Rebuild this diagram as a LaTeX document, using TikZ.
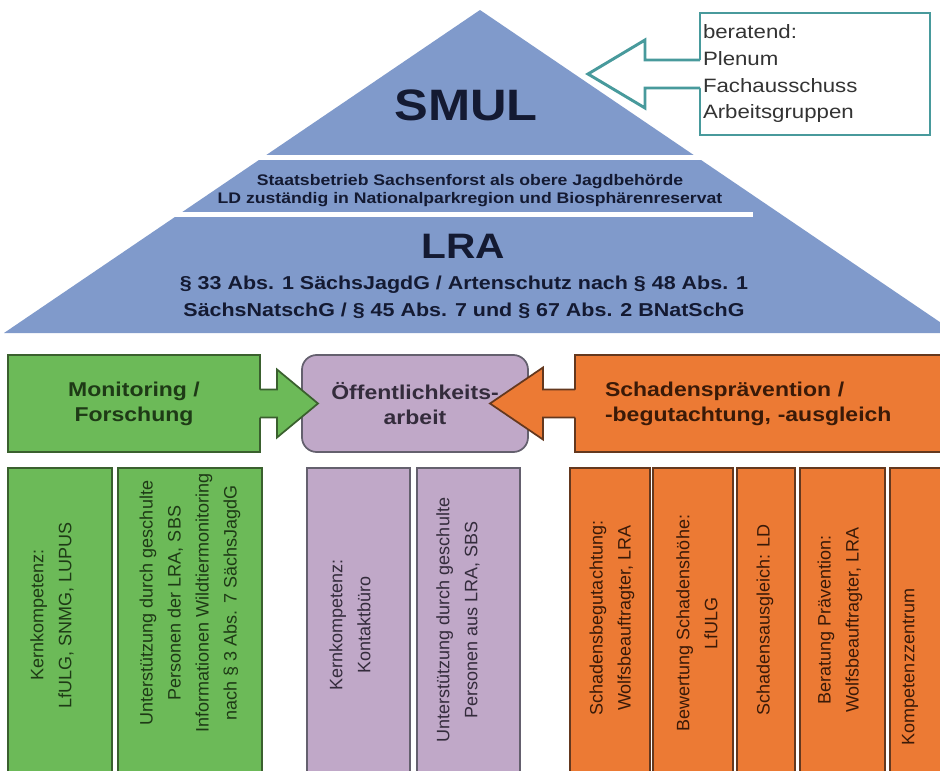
\documentclass[tikz,border=0pt]{standalone}
\usepackage{fontspec}
\setmainfont{Liberation Sans}
\newfontfamily\widefont{Liberation Sans}[FakeStretch=1.15]
\usetikzlibrary{calc}
\definecolor{pyrblue}{RGB}{128,154,203}
\definecolor{navy}{RGB}{20,26,50}
\definecolor{tealline}{RGB}{72,154,156}
\definecolor{grnfill}{RGB}{108,186,88}
\definecolor{grnline}{RGB}{58,96,46}
\definecolor{grntext}{RGB}{30,58,22}
\definecolor{lavfill}{RGB}{192,168,200}
\definecolor{lavline}{RGB}{100,96,110}
\definecolor{lavtext}{RGB}{52,44,60}
\definecolor{orfill}{RGB}{236,122,52}
\definecolor{orline}{RGB}{100,56,30}
\definecolor{ortext}{RGB}{58,26,8}
\tikzset{>=stealth,
  midbox/.style={draw, line width=1.3pt, minimum height=72.75pt, inner sep=0pt, outer sep=0pt,
    font=\widefont\bfseries\fontsize{15}{18.75}\selectfont, align=center},
  coltext/.style={rotate=90, align=center, font=\fontsize{13.5}{21}\selectfont},
  colbox/.style={line width=1.2pt}}

\begin{document}
\begin{tikzpicture}[x=0.75pt,y=-0.75pt]
    \clip (0,0) rectangle (940,771);
    \fill[white] (0,0) rectangle (940,771);

    % pyramid
    \fill[pyrblue] (480,10) -- (956,333) -- (4,333) -- cycle;
    \fill[white] (0,155) rectangle (940,160);
    \fill[white] (0,212) rectangle (753,217);

    \node[font=\widefont\bfseries\fontsize{33}{40}\selectfont, text=navy] (smul) at (466,105) {SMUL};
    \node[font=\widefont\bfseries\fontsize{11.5}{13.5}\selectfont, text=navy, align=center] (sbs) at (470,191)
      {Staatsbetrieb Sachsenforst als obere Jagdbehörde\\LD zuständig in Nationalparkregion und Biosphärenreservat};
    \node[font=\widefont\bfseries\fontsize{26.5}{30}\selectfont, text=navy] (lra) at (463,246) {LRA};
    \node[font=\widefont\bfseries\fontsize{14}{20}\selectfont, text=navy, align=center] (recht) at (464,297)
      {§ 33 Abs. 1 SächsJagdG / Artenschutz nach § 48 Abs. 1\\SächsNatschG / § 45 Abs. 7 und § 67 Abs. 2 BNatSchG};

    % beratend
    \node[draw=tealline, line width=2.2pt, fill=white, outer sep=0pt, minimum width=172.5pt, minimum height=91.5pt,
      text width=168pt, inner xsep=2.25pt, align=left, font=\widefont\fontsize{14.5}{20}\selectfont, text=black!80]
      (berat) at (815,74) {beratend:\\Plenum\\Fachausschuss\\Arbeitsgruppen};
    \fill[white] ($(berat.west)+(3,-14)$) -- ++(-58,0) -- ++(0,-20) -- ++(-57,34) -- ++(57,34) -- ++(0,-20) -- ++(58,0) -- cycle;
    \draw[tealline, line width=2.2pt] ($(berat.west)+(0,-14)$) -- ++(-55,0) -- ++(0,-20) -- ++(-57,34)
      -- ++(57,34) -- ++(0,-20) -- ++(55,0);

    % middle row
    \node[midbox, fill=lavfill, draw=lavline, rounded corners=11pt, minimum width=169.5pt, text=lavtext]
      (oeff) at (415,403.5) {Öffentlichkeits-\\arbeit};
    \node[midbox, fill=grnfill, draw=grnline, minimum width=189pt, text=grntext]
      (moni) at (134,403.5) {Monitoring /\\Forschung};
    \node[midbox, fill=orfill, draw=orline, text width=251.25pt, inner xsep=22.5pt, align=left, text=ortext]
      (schad) at (772.5,403.5) {Schadensprävention /\\-begutachtung, -ausgleich};

    \fill[grnfill] ($(moni.east)+(-3,-14)$) -- ++(20,0) -- ++(0,-20) -- ++(41,34) -- ++(-41,34) -- ++(0,-20) -- ++(-20,0) -- cycle;
    \draw[grnline, line width=1.3pt] ($(moni.east)+(0,-14)$) -- ++(17,0) -- ++(0,-20) -- ++(41,34)
      -- ++(-41,34) -- ++(0,-20) -- ++(-17,0);
    \fill[orfill] ($(schad.west)+(3,-14)$) -- ++(-35,0) -- ++(0,-22) -- ++(-53,36) -- ++(53,36) -- ++(0,-22) -- ++(35,0) -- cycle;
    \draw[orline, line width=1.3pt] ($(schad.west)+(0,-14)$) -- ++(-32,0) -- ++(0,-22) -- ++(-53,36)
      -- ++(53,36) -- ++(0,-22) -- ++(32,0);

    % columns
    \foreach \xa/\xb in {8/112,118/262}
      \filldraw[colbox, fill=grnfill, draw=grnline] (\xa,468) rectangle (\xb,790);
    \foreach \xa/\xb in {307/410,417/520}
      \filldraw[colbox, fill=lavfill, draw=lavline] (\xa,468) rectangle (\xb,790);
    \foreach \xa/\xb in {570/650,653/733,737/795,800/885,890/950}
      \filldraw[colbox, fill=orfill, draw=orline] (\xa,468) rectangle (\xb,790);

    \node[coltext, text=grntext] (kerng) at (52,615) {Kernkompetenz:\\LfULG, SNMG, LUPUS};
    \node[coltext, text=grntext] (unterg) at (190,603) {Unterstützung durch geschulte\\Personen der LRA, SBS\\Informationen Wildtiermonitoring\\nach § 3 Abs. 7 SächsJagdG};
    \node[coltext, text=lavtext] (kernl) at (350,625) {Kernkompetenz:\\Kontaktbüro};
    \node[coltext, text=lavtext] (unterl) at (458,620) {Unterstützung durch geschulte\\Personen aus LRA, SBS};
    \node[coltext, text=ortext] (begut) at (612,618) {Schadensbegutachtung:\\Wolfsbeauftragter, LRA};
    \node[coltext, text=ortext] (bewert) at (697,623) {Bewertung Schadenshöhe:\\LfULG};
    \node[coltext, text=ortext] (ausgl) at (765,620) {Schadensausgleich: LD};
    \node[coltext, text=ortext] (berat2) at (840,620) {Beratung Prävention:\\Wolfsbeauftragter, LRA};
    \node[coltext, text=ortext] (kompz) at (910,667) {Kompetenzzentrum};
\end{tikzpicture}
\end{document}
